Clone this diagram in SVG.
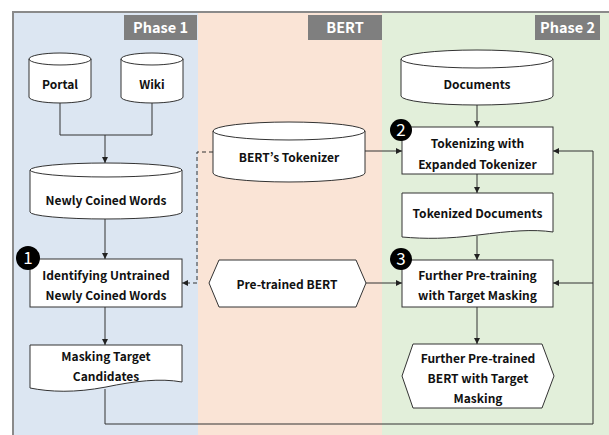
<svg xmlns="http://www.w3.org/2000/svg" width="609" height="435" viewBox="0 0 609 435">
<defs>
<marker id="ah" viewBox="0 0 10 10" refX="10" refY="5" markerWidth="6" markerHeight="6" orient="auto" markerUnits="userSpaceOnUse">
<path d="M0,0 L10,5 L0,10 Z" fill="#222"/>
</marker>
<style>
.shape{fill:#fff;stroke:#333;stroke-width:1}
.t{font-family:"Noto Sans CJK KR","Malgun Gothic","Liberation Sans",sans-serif;font-weight:700;font-size:12px;fill:#111;text-anchor:middle}
.hdr{fill:#7f7f7f}
.ht{font-family:"Noto Sans CJK KR","Liberation Sans",sans-serif;font-weight:700;font-size:14.5px;fill:#fff;text-anchor:middle}
.c{fill:none;stroke:#333;stroke-width:1}
.badge{fill:#000}
.bt{font-family:"Noto Sans CJK KR","Liberation Sans",sans-serif;font-size:17px;fill:#fff;text-anchor:middle}
</style>
</defs>
<rect x="0" y="0" width="609" height="435" fill="#fff"/>
<g id="panels">
<rect x="13" y="12" width="185" height="423" fill="#dce6f2"/>
<rect x="198" y="12" width="184" height="423" fill="#fae4d6"/>
<rect x="382" y="12" width="227" height="423" fill="#e2efda"/>
<path d="M13,435 V12 H609" fill="none" stroke="#8a8a8a" stroke-width="2"/>
<rect class="hdr" x="124" y="15" width="73" height="25"/>
<text class="ht" x="160.5" y="33">Phase 1</text>
<rect class="hdr" x="308" y="15" width="74" height="25"/>
<text class="ht" x="345" y="33">BERT</text>
<rect class="hdr" x="535" y="15" width="65" height="25"/>
<text class="ht" x="567.5" y="33">Phase 2</text>
</g>
<g id="connectors">
<path class="c" d="M60,97 V135 H152 V97"/>
<path class="c" d="M105,135 V163" marker-end="url(#ah)"/>
<path class="c" d="M105,219 V259" marker-end="url(#ah)"/>
<path class="c" d="M105,307 V345" marker-end="url(#ah)"/>
<path class="c" d="M213,152 H197 V283 H182" stroke-dasharray="4,3" marker-end="url(#ah)"/>
<path class="c" d="M365,151 H402" marker-end="url(#ah)"/>
<path class="c" d="M366,283 H402" marker-end="url(#ah)"/>
<path class="c" d="M477,105 V127" marker-end="url(#ah)"/>
<path class="c" d="M477,174 V193" marker-end="url(#ah)"/>
<path class="c" d="M477,236 V260" marker-end="url(#ah)"/>
<path class="c" d="M477,307 V344" marker-end="url(#ah)"/>
<path class="c" d="M105,389 V424 H593 V151 H553" marker-end="url(#ah)"/>
<path class="c" d="M593,283 H553" marker-end="url(#ah)"/>
</g>
<g id="portal">
<path class="shape" d="M29,59 A31,6 0 0 1 91,59 V97 A31,6 0 0 1 29,97 Z"/>
<path class="c" d="M29,59 A31,6 0 0 0 91,59"/>
<text class="t" x="60" y="89">Portal</text>
</g>
<g id="wiki">
<path class="shape" d="M121,59 A31,6 0 0 1 183,59 V97 A31,6 0 0 1 121,97 Z"/>
<path class="c" d="M121,59 A31,6 0 0 0 183,59"/>
<text class="t" x="152" y="89">Wiki</text>
</g>
<g id="newly-coined-words">
<path class="shape" d="M30,170 A76,7 0 0 1 182,170 V212 A76,7 0 0 1 30,212 Z"/>
<path class="c" d="M30,170 A76,7 0 0 0 182,170"/>
<text class="t" x="106" y="205">Newly Coined Words</text>
</g>
<g id="identifying">
<rect class="shape" x="30" y="259" width="152" height="48"/>
<text class="t" x="106" y="280">Identifying Untrained</text>
<text class="t" x="106" y="300">Newly Coined Words</text>
<circle class="badge" cx="28" cy="258" r="12"/>
<text class="bt" x="28" y="264">1</text>
</g>
<g id="masking-target-candidates">
<path class="shape" d="M30,345 H182 V382 C160,378 135,381 106,387 C75,393 50,392 30,388 Z"/>
<text class="t" x="106" y="361">Masking Target</text>
<text class="t" x="106" y="381">Candidates</text>
</g>
<g id="berts-tokenizer">
<path class="shape" d="M213,131 A76,9 0 0 1 365,131 V173 A76,9 0 0 1 213,173 Z"/>
<path class="c" d="M213,131 A76,9 0 0 0 365,131"/>
<text class="t" x="289" y="162">BERT’s Tokenizer</text>
</g>
<g id="pretrained-bert">
<path class="shape" d="M209,283 L219,260 H356 L366,283 L356,307 H219 Z"/>
<text class="t" x="287" y="289">Pre-trained BERT</text>
</g>
<g id="documents">
<path class="shape" d="M401,59 A76,9 0 0 1 553,59 V96 A76,9 0 0 1 401,96 Z"/>
<path class="c" d="M401,59 A76,9 0 0 0 553,59"/>
<text class="t" x="477" y="89">Documents</text>
</g>
<g id="tokenizing">
<rect class="shape" x="402" y="127" width="151" height="47"/>
<text class="t" x="477.5" y="148">Tokenizing with</text>
<text class="t" x="477.5" y="169">Expanded Tokenizer</text>
<circle class="badge" cx="401" cy="130" r="11"/>
<text class="bt" x="401" y="136">2</text>
</g>
<g id="tokenized-documents">
<path class="shape" d="M402,193 H553 V232 C533,229 510,231 478,235 C448,239 425,239 402,237 Z"/>
<text class="t" x="477.5" y="218">Tokenized Documents</text>
</g>
<g id="further-pretraining">
<rect class="shape" x="402" y="260" width="151" height="47"/>
<text class="t" x="477.5" y="280">Further Pre-training</text>
<text class="t" x="477.5" y="300">with Target Masking</text>
<circle class="badge" cx="401" cy="259" r="11"/>
<text class="bt" x="401" y="265">3</text>
</g>
<g id="further-pretrained-bert">
<path class="shape" d="M402,376 L413,344 H542 L554,376 L542,408 H413 Z"/>
<text class="t" x="478" y="363">Further Pre-trained</text>
<text class="t" x="478" y="383">BERT with Target</text>
<text class="t" x="478" y="403">Masking</text>
</g>
</svg>
